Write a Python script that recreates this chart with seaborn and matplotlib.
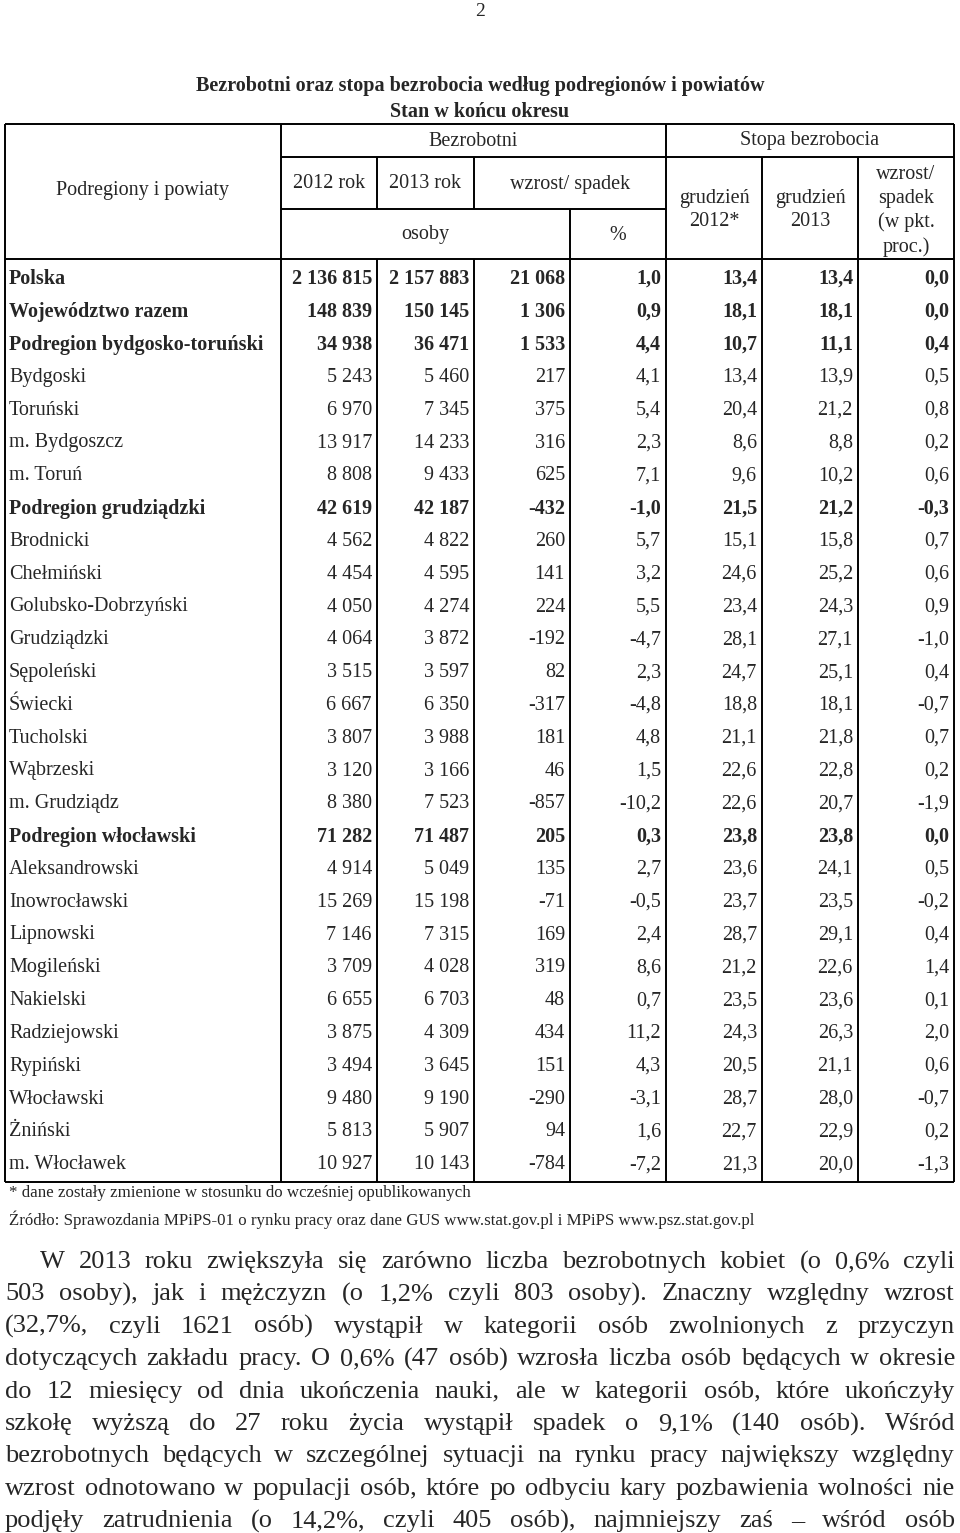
import numpy as np
import pandas as pd
import matplotlib
matplotlib.use('Agg')
import matplotlib.pyplot as plt
import seaborn as sns

## Table data
names = ['Polska', 'Województwo razem', 'Podregion bydgosko-toruński', 'Bydgoski', 'Toruński',
         'm. Bydgoszcz', 'm. Toruń', 'Podregion grudziądzki', 'Brodnicki', 'Chełmiński',
         'Golubsko-Dobrzyński', 'Grudziądzki', 'Sępoleński', 'Świecki', 'Tucholski', 'Wąbrzeski',
         'm. Grudziądz', 'Podregion włocławski', 'Aleksandrowski', 'Inowrocławski', 'Lipnowski',
         'Mogileński', 'Nakielski', 'Radziejowski', 'Rypiński', 'Włocławski', 'Żniński', 'm. Włocławek']
bold = [1, 1, 1, 0, 0, 0, 0, 1, 0, 0, 0, 0, 0, 0, 0, 0, 0, 1, 0, 0, 0, 0, 0, 0, 0, 0, 0, 0]
bezr_2012 = [2136815, 148839, 34938, 5243, 6970, 13917, 8808, 42619, 4562, 4454, 4050, 4064, 3515, 6667,
             3807, 3120, 8380, 71282, 4914, 15269, 7146, 3709, 6655, 3875, 3494, 9480, 5813, 10927]
bezr_2013 = [2157883, 150145, 36471, 5460, 7345, 14233, 9433, 42187, 4822, 4595, 4274, 3872, 3597, 6350,
             3988, 3166, 7523, 71487, 5049, 15198, 7315, 4028, 6703, 4309, 3645, 9190, 5907, 10143]
zmiana_os = [21068, 1306, 1533, 217, 375, 316, 625, -432, 260, 141, 224, -192, 82, -317,
             181, 46, -857, 205, 135, -71, 169, 319, 48, 434, 151, -290, 94, -784]
zmiana_proc = [1.0, 0.9, 4.4, 4.1, 5.4, 2.3, 7.1, -1.0, 5.7, 3.2, 5.5, -4.7, 2.3, -4.8,
               4.8, 1.5, -10.2, 0.3, 2.7, -0.5, 2.4, 8.6, 0.7, 11.2, 4.3, -3.1, 1.6, -7.2]
stopa_2012 = [13.4, 18.1, 10.7, 13.4, 20.4, 8.6, 9.6, 21.5, 15.1, 24.6, 23.4, 28.1, 24.7, 18.8,
              21.1, 22.6, 22.6, 23.8, 23.6, 23.7, 28.7, 21.2, 23.5, 24.3, 20.5, 28.7, 22.7, 21.3]
stopa_2013 = [13.4, 18.1, 11.1, 13.9, 21.2, 8.8, 10.2, 21.2, 15.8, 25.2, 24.3, 27.1, 25.1, 18.1,
              21.8, 22.8, 20.7, 23.8, 24.1, 23.5, 29.1, 22.6, 23.6, 26.3, 21.1, 28.0, 22.9, 20.0]
stopa_zm = [0.0, 0.0, 0.4, 0.5, 0.8, 0.2, 0.6, -0.3, 0.7, 0.6, 0.9, -1.0, 0.4, -0.7,
            0.7, 0.2, -1.9, 0.0, 0.5, -0.2, 0.4, 1.4, 0.1, 2.0, 0.6, -0.7, 0.2, -1.3]

title = 'Bezrobotni oraz stopa bezrobocia według podregionów i powiatów'
subtitle = 'Stan w końcu okresu'
footnote = '* dane zostały zmienione w stosunku do wcześniej opublikowanych'
source = 'Źródło: Sprawozdania MPiPS-01 o rynku pracy oraz dane GUS www.stat.gov.pl i MPiPS www.psz.stat.gov.pl'
paragraph = [
    'W 2013 roku zwiększyła się zarówno liczba bezrobotnych kobiet (o 0,6% czyli',
    '503 osoby), jak i mężczyzn (o 1,2% czyli 803 osoby). Znaczny względny wzrost',
    '(32,7%, czyli 1621 osób) wystąpił w kategorii osób zwolnionych z przyczyn',
    'dotyczących zakładu pracy. O 0,6% (47 osób) wzrosła liczba osób będących w okresie',
    'do 12 miesięcy od dnia ukończenia nauki, ale w kategorii osób, które ukończyły',
    'szkołę wyższą do 27 roku życia wystąpił spadek o 9,1% (140 osób). Wśród',
    'bezrobotnych będących w szczególnej sytuacji na rynku pracy największy względny',
    'wzrost odnotowano w populacji osób, które po odbyciu kary pozbawienia wolności nie',
    'podjęły zatrudnienia (o 14,2%, czyli 405 osób), najmniejszy zaś – wśród osób',
]

def fmt_int(v):
    return '{:,}'.format(v).replace(',', ' ')

def fmt_dec(v):
    return '{:.1f}'.format(v).replace('.', ',')

df = pd.DataFrame({'name': names, 'bold': bold,
                   'b2012': [fmt_int(v) for v in bezr_2012], 'b2013': [fmt_int(v) for v in bezr_2013],
                   'zos': [fmt_int(v) for v in zmiana_os], 'zproc': [fmt_dec(v) for v in zmiana_proc],
                   's2012': [fmt_dec(v) for v in stopa_2012], 's2013': [fmt_dec(v) for v in stopa_2013],
                   'szm': [fmt_dec(v) for v in stopa_zm]})

## Layout (pixel units of the page)
W, H = 960, 1533
col_edges = [5, 281, 377, 474, 570, 666, 762, 858, 954]
top, head_bot, bottom = 124, 259, 1182
row0, row_step = 279, 32.8
FS = 14.5

sns.set_theme(style='white')
plt.rcParams['font.family'] = ['Liberation Serif', 'DejaVu Serif']

fig = plt.figure(figsize=(W / 100, H / 100), dpi=100)
ax = fig.add_axes([0, 0, 1, 1])
ax.set_xlim(0, W)
ax.set_ylim(H, 0)
ax.axis('off')

ax.text(480, 12, '2', ha='center', va='center', fontsize=14)
ax.text(480, 86, title, ha='center', va='center', fontsize=FS, fontweight='bold')
ax.text(480, 112, subtitle, ha='center', va='center', fontsize=FS, fontweight='bold')

## Grid lines
lk = dict(color='black', lw=1.4)
ax.hlines([top, head_bot, bottom], col_edges[0], col_edges[-1], **lk)
ax.hlines(157, 281, 954, **lk)
ax.hlines(209, 281, 666, **lk)
ax.vlines([5, 281, 666, 954], top, bottom, **lk)
ax.vlines([762, 858], 157, bottom, **lk)
ax.vlines([377, 474], 157, 209, **lk)
ax.vlines([377, 474], head_bot, bottom, **lk)
ax.vlines(570, 209, bottom, **lk)

## Header
hk = dict(ha='center', va='center', fontsize=FS)
ax.text(143, 191, 'Podregiony i powiaty', **hk)
ax.text(473, 141, 'Bezrobotni', **hk)
ax.text(810, 141, 'Stopa bezrobocia', **hk)
ax.text(329, 184, '2012 rok', **hk)
ax.text(425, 184, '2013 rok', **hk)
ax.text(570, 184, 'wzrost/ spadek', **hk)
ax.text(425, 234, 'osoby', **hk)
ax.text(618, 236, '%', **hk)
ax.text(714, 210, 'grudzień\n2012*', linespacing=1.35, **hk)
ax.text(810, 210, 'grudzień\n2013', linespacing=1.35, **hk)
ax.text(906, 211, 'wzrost/\nspadek\n(w pkt.\nproc.)', linespacing=1.35, **hk)

## Body
value_cols = ['b2012', 'b2013', 'zos', 'zproc', 's2012', 's2013', 'szm']
for i, row in df.iterrows():
    y = row0 + i * row_step
    fw = 'bold' if row['bold'] else 'normal'
    ax.text(col_edges[0] + 4, y, row['name'], ha='left', va='center', fontsize=FS, fontweight=fw)
    for j, c in enumerate(value_cols):
        ax.text(col_edges[j + 2] - 5, y, row[c], ha='right', va='center', fontsize=FS, fontweight=fw)

## Notes
ax.text(9, 1193, footnote, ha='left', va='center', fontsize=12.2)
ax.text(9, 1220, source, ha='left', va='center', fontsize=12.2)

## Justified paragraph
renderer = fig.canvas.get_renderer()
for k, line in enumerate(paragraph):
    y = 1262 + k * 32.4
    left = 40 if k == 0 else 5
    right = 955
    words = line.split(' ')
    texts = [ax.text(0, y, w, ha='left', va='center', fontsize=19) for w in words]
    widths = [t.get_window_extent(renderer).width for t in texts]
    gap = (right - left - sum(widths)) / (len(words) - 1)
    x = left
    for t, w in zip(texts, widths):
        t.set_x(x)
        x += w + gap

plt.savefig('out.png', dpi=100, facecolor='white')
